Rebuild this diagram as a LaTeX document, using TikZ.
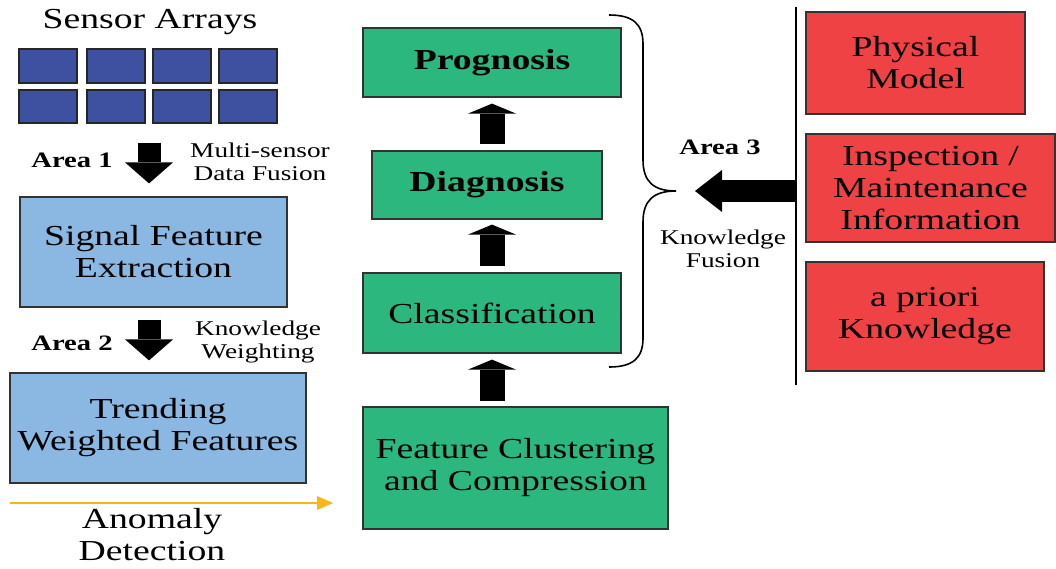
\documentclass[tikz,border=0pt]{standalone}
\usepackage{fontspec}
\setmainfont{Liberation Serif}[FakeStretch=1.3]
\usetikzlibrary{arrows.meta}
\definecolor{sensorblue}{HTML}{3D51A0}
\definecolor{lightblue}{HTML}{8AB8E2}
\definecolor{boxgreen}{HTML}{2BB77E}
\definecolor{boxred}{HTML}{EE4245}
\definecolor{arrorange}{HTML}{F7B719}
\definecolor{edgegray}{HTML}{333333}
\newcommand\bigtxt{\fontsize{29}{32}\selectfont}
\newcommand\smalltxt{\fontsize{21}{23}\selectfont}
\newcommand\areatxt{\fontsize{22}{23}\selectfont\bfseries}
\tikzset{
  sq/.style={draw=black!85, line width=1.2, fill=sensorblue, minimum width=58, minimum height=34, inner sep=0},
  boxbase/.style={draw=edgegray, line width=1.2, align=center, inner sep=0, font=\bigtxt},
  bluebox/.style={boxbase, fill=lightblue},
  greenbox/.style={boxbase, fill=boxgreen},
  redbox/.style={boxbase, fill=boxred},
  lbl/.style={align=center, inner sep=0, font=\smalltxt},
  arealbl/.style={align=center, inner sep=0, font=\areatxt},
  bigarrow/.style={line width=#1, -{Triangle[length=10pt,width=48pt,line width=0pt]}},
  downarrow/.style={line width=23, -{Triangle[length=21pt,width=48pt,line width=0pt]}},
  leftarrow/.style={line width=22, -{Triangle[length=27pt,width=42pt,line width=0pt]}},
  orangearrow/.style={draw=arrorange, line width=2, -{Triangle[length=16pt,width=14pt,line width=0pt]}}
}
\begin{document}
\begin{tikzpicture}[x=1pt,y=-1pt]
\useasboundingbox (0,0) rectangle (1056,568);
% left column
\node[font=\bigtxt, inner sep=0] (title) at (150,22) {Sensor Arrays};
\node[sq] (s11) at (48,66) {};
\node[sq] (s12) at (116,66) {};
\node[sq] (s13) at (182,66) {};
\node[sq] (s14) at (248,66) {};
\node[sq, minimum height=33] (s21) at (48,106.5) {};
\node[sq, minimum height=33] (s22) at (116,106.5) {};
\node[sq, minimum height=33] (s23) at (182,106.5) {};
\node[sq, minimum height=33] (s24) at (248,106.5) {};
\coordinate (sensbot) at (149,123);

\node[arealbl] (a1) at (72,160) {Area 1};
\node[lbl] (msdf) at (260,161.5) {Multi-sensor\\Data Fusion};
\node[bluebox, minimum width=267, minimum height=110] (sig) at (153.5,252) {Signal Feature\\Extraction};
\draw[downarrow, shorten <=20, shorten >=13] (sensbot) -- (sig.north -| sensbot);

\node[arealbl] (a2) at (72,343) {Area 2};
\node[lbl] (kw) at (258,341.5) {Knowledge\\Weighting};
\node[bluebox, minimum width=296, minimum height=110] (trend) at (158,428) {Trending\\Weighted Features};
\draw[downarrow, shorten <=12, shorten >=12] (sig.south -| sensbot) -- (trend.north -| sensbot);

\coordinate (an1) at (10,503);
\coordinate (an2) at (333,503);
\draw[orangearrow] (an1) -- (an2);
\node[font=\bigtxt, align=center, inner sep=0] (anom) at (152,535) {Anomaly\\Detection};

% middle column
\node[greenbox, minimum width=258, minimum height=69, font=\bigtxt\bfseries] (prog) at (492,62.5) {Prognosis};
\node[greenbox, minimum width=230, minimum height=68, font=\bigtxt\bfseries] (diag) at (487,185) {Diagnosis};
\node[greenbox, minimum width=258, minimum height=80] (clas) at (492,313) {Classification};
\node[greenbox, minimum width=305, minimum height=122] (feat) at (515.5,468) {Feature Clustering\\and Compression};
\coordinate (midx) at (492,0);
\draw[bigarrow=25, shorten <=5, shorten >=6] (feat.north -| midx) -- (clas.south -| midx);
\draw[bigarrow=25, shorten <=6, shorten >=5] (clas.north -| midx) -- (diag.south -| midx);
\draw[bigarrow=25, shorten <=6, shorten >=6] (diag.north -| midx) -- (prog.south -| midx);

% brace
\coordinate (bracetip) at (676,191);
\draw[line width=1.6] (609,15) .. controls (633,15) and (643,24) .. (643,44) -- (643,160)
  .. controls (643,182) and (654,191) .. (bracetip)
  .. controls (654,191) and (643,200) .. (643,222) -- (643,338)
  .. controls (643,358) and (633,367) .. (609,367);

% right column
\coordinate (vtop) at (796,7);
\coordinate (vbot) at (796,385);
\draw[line width=2.5] (vtop) -- (vbot);
\coordinate (vmid) at (796,191);
\draw[leftarrow, shorten >=19] (vmid) -- (bracetip);
\node[arealbl] (a3) at (720,147) {Area 3};
\node[lbl] (kf) at (723,249) {Knowledge\\Fusion};

\node[redbox, minimum width=219, minimum height=102] (phys) at (915.5,63) {Physical\\Model};
\node[redbox, minimum width=249, minimum height=108] (insp) at (930.5,188) {Inspection /\\Maintenance\\Information};
\node[redbox, minimum width=238, minimum height=109] (apri) at (925,316.5) {a priori\\Knowledge};
\end{tikzpicture}
\end{document}
